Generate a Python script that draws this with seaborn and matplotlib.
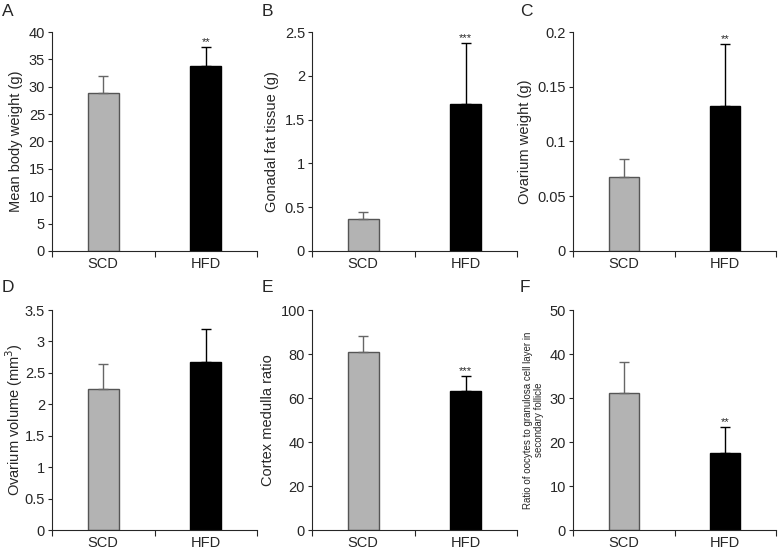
import numpy as np
import pandas as pd
import matplotlib
matplotlib.use("Agg")
import matplotlib.pyplot as plt
import matplotlib.ticker as ticker
import seaborn as sns

groups = ["SCD", "HFD"]
panel_letters = ["A", "B", "C", "D", "E", "F"]

body_weight = [28.8, 33.8]
body_weight_err = [3.2, 3.4]
gonadal_fat = [0.37, 1.68]
gonadal_fat_err = [0.07, 0.69]
ovarium_weight = [0.068, 0.132]
ovarium_weight_err = [0.016, 0.057]
ovarium_volume = [2.24, 2.68]
ovarium_volume_err = [0.40, 0.52]
cortex_medulla = [81.0, 63.3]
cortex_medulla_err = [7.0, 6.7]
oocyte_ratio = [31.1, 17.4]
oocyte_ratio_err = [7.1, 6.1]

stars = [["", "**"], ["", "***"], ["", "**"], ["", ""], ["", "***"], ["", "**"]]
ylabels = ["Mean body weight (g)", "Gonadal fat tissue (g)", "Ovarium weight (g)",
           "Ovarium volume (mm$^3$)", "Cortex medulla ratio",
           "Ratio of oocytes to granulosa cell layer in\nsecondary follicle"]
ylims = [(0, 40, 5), (0, 2.5, 0.5), (0, 0.2, 0.05), (0, 3.5, 0.5), (0, 100, 20), (0, 50, 10)]

values = [body_weight, gonadal_fat, ovarium_weight, ovarium_volume, cortex_medulla, oocyte_ratio]
errors = [body_weight_err, gonadal_fat_err, ovarium_weight_err, ovarium_volume_err,
          cortex_medulla_err, oocyte_ratio_err]

sns.set_style("ticks")
plt.rcParams["font.family"] = ["Liberation Sans", "DejaVu Sans"]
plt.rcParams["font.size"] = 10.5

PALETTE = {"SCD": "#b3b3b3", "HFD": "#000000"}
EDGES = ["#555555", "#000000"]
ERRC = ["#666666", "#000000"]

fig = plt.figure(figsize=(7.78, 5.5), dpi=100)
W, H = 778, 550
# axes boxes in pixels: left, top, right, bottom
boxes = [(52, 32, 257, 251), (312, 32, 517, 251), (573, 32, 776, 251),
         (52, 310, 257, 530), (312, 310, 517, 530), (573, 310, 776, 530)]
letter_pos = [(2, 12), (262, 12), (520, 12), (2, 287), (262, 287), (520, 287)]

for k in range(6):
    l, t, r, b = boxes[k]
    ax = fig.add_axes([l / W, 1 - b / H, (r - l) / W, (b - t) / H])
    df = pd.DataFrame({"group": groups, "value": values[k]})
    sns.barplot(data=df, x="group", y="value", hue="group", palette=PALETTE,
                order=groups, width=0.3, errorbar=None, legend=False,
                linewidth=1.0, ax=ax)
    for i, p in enumerate(ax.patches):
        p.set_edgecolor(EDGES[i])
    for i in range(2):
        ax.errorbar(i, values[k][i], yerr=[[0], [errors[k][i]]], fmt="none",
                    ecolor=ERRC[i], elinewidth=1.0, capsize=3.5, capthick=1.0, zorder=3)
        if stars[k][i]:
            ax.text(i, values[k][i] + errors[k][i], stars[k][i], ha="center",
                    va="bottom", fontsize=8)
    lo, hi, step = ylims[k]
    ax.set_ylim(lo, hi)
    ax.yaxis.set_major_locator(ticker.MultipleLocator(step))
    ax.yaxis.set_major_formatter(ticker.FuncFormatter(lambda v, pos: f"{v:g}"))
    ax.set_xlim(-0.5, 1.5)
    ax.set_xticks([0, 1])
    ax.set_xticklabels(groups, fontsize=10.5)
    ax.set_xticks([-0.5, 0.5, 1.5], minor=True)
    ax.tick_params(axis="x", which="major", length=0, pad=4)
    ax.tick_params(axis="x", which="minor", length=4, width=0.8)
    ax.tick_params(axis="y", length=3, width=0.8, labelsize=10.5, pad=2)
    ax.set_xlabel("")
    if k == 5:
        ax.set_ylabel(ylabels[k], fontsize=7, labelpad=4)
    elif k == 3:
        ax.set_ylabel(ylabels[k], fontsize=10.5, labelpad=0)
    else:
        ax.set_ylabel(ylabels[k], fontsize=10.5, labelpad=4)
    for s in ["top", "right"]:
        ax.spines[s].set_visible(False)
    for s in ["left", "bottom"]:
        ax.spines[s].set_linewidth(0.8)
    fx, fy = letter_pos[k]
    fig.text(fx / W, 1 - fy / H, panel_letters[k], fontsize=12.5, va="center", ha="left")

fig.savefig("out.png", dpi=100)
